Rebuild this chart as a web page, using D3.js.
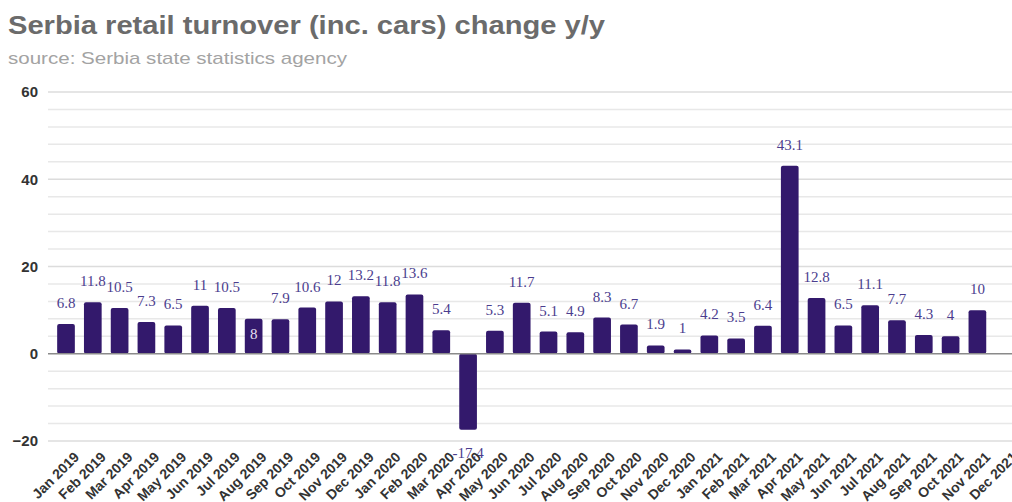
<!DOCTYPE html>
<html>
<head>
<meta charset="utf-8">
<script src="https://cdn.jsdelivr.net/npm/d3@7"></script>
<style>
  body { margin: 0; background: #fff; }
  svg { display: block; }
</style>
</head>
<body>
<script>
// months on the x axis (Dec 2021 has no value yet)
var months = [
  "Jan 2019", "Feb 2019", "Mar 2019", "Apr 2019", "May 2019", "Jun 2019",
  "Jul 2019", "Aug 2019", "Sep 2019", "Oct 2019", "Nov 2019", "Dec 2019",
  "Jan 2020", "Feb 2020", "Mar 2020", "Apr 2020", "May 2020", "Jun 2020",
  "Jul 2020", "Aug 2020", "Sep 2020", "Oct 2020", "Nov 2020", "Dec 2020",
  "Jan 2021", "Feb 2021", "Mar 2021", "Apr 2021", "May 2021", "Jun 2021",
  "Jul 2021", "Aug 2021", "Sep 2021", "Oct 2021", "Nov 2021", "Dec 2021"
];
// y/y change, %
var change = [
  6.8, 11.8, 10.5, 7.3, 6.5, 11, 10.5, 8, 7.9, 10.6, 12, 13.2,
  11.8, 13.6, 5.4, -17.4, 5.3, 11.7, 5.1, 4.9, 8.3, 6.7, 1.9, 1,
  4.2, 3.5, 6.4, 43.1, 12.8, 6.5, 11.1, 7.7, 4.3, 4, 10, null
];
// labelled y ticks
var yTicks = [-20, 0, 20, 40, 60];

var W = 1012, H = 502;
var plotLeft = 48, plotTop = 92, plotBottom = 441;

var svg = d3.select("body").append("svg")
  .attr("width", W)
  .attr("height", H)
  .style("font-family", "'Liberation Sans', Arial, sans-serif");

// title and source
svg.append("text")
  .attr("x", 8).attr("y", 34)
  .style("font-size", "26px")
  .style("font-weight", "bold")
  .attr("fill", "#6b6b6b")
  .attr("textLength", 597)
  .attr("lengthAdjust", "spacingAndGlyphs")
  .text("Serbia retail turnover (inc. cars) change y/y");

svg.append("text")
  .attr("x", 8).attr("y", 64)
  .style("font-size", "17px")
  .attr("fill", "#a3a3a3")
  .attr("textLength", 339)
  .attr("lengthAdjust", "spacingAndGlyphs")
  .text("source: Serbia state statistics agency");

var y = d3.scaleLinear().domain([-20, 60]).range([plotBottom, plotTop]);
var x = d3.scaleBand().domain(months).range([52.6, 1017.6]).paddingInner(0.34).paddingOuter(0.17);

// grid lines every 4
var grid = d3.range(-20, 61, 4);
svg.append("g").selectAll("line")
  .data(grid.filter(function(d){ return d !== 0; }))
  .enter().append("line")
  .attr("x1", plotLeft).attr("x2", W)
  .attr("y1", function(d){ return y(d); })
  .attr("y2", function(d){ return y(d); })
  .attr("stroke", function(d){ return d % 20 === 0 ? "#dcdcdc" : "#e8e8e8"; })
  .attr("stroke-width", 1.5);

// y axis labels
var yAxis = svg.append("g")
  .attr("transform", "translate(" + plotLeft + ",0)")
  .call(d3.axisLeft(y).tickValues(yTicks).tickSize(0).tickPadding(10));
yAxis.select(".domain").remove();
yAxis.selectAll("text")
  .style("font-family", "'Liberation Sans', Arial, sans-serif")
  .style("font-size", "15px")
  .style("font-weight", "bold")
  .attr("fill", "#333");

// bars
var data = months.map(function(m, i){ return { m: m, v: change[i] }; })
  .filter(function(d){ return d.v !== null; });

svg.append("g").selectAll("rect")
  .data(data)
  .enter().append("rect")
  .attr("x", function(d){ return x(d.m); })
  .attr("width", x.bandwidth())
  .attr("y", function(d){ return y(Math.max(0, d.v)); })
  .attr("height", function(d){ return Math.abs(y(d.v) - y(0)); })
  .attr("rx", 2)
  .attr("fill", "#33196c");

// zero line
svg.append("line")
  .attr("x1", plotLeft).attr("x2", W)
  .attr("y1", y(0)).attr("y2", y(0))
  .attr("stroke", "#8a8a8a")
  .attr("stroke-width", 1.5);

// value labels (Aug 2019 sits inside its bar in the original)
svg.append("g").selectAll("text")
  .data(data)
  .enter().append("text")
  .attr("x", function(d){ return x(d.m) + x.bandwidth() / 2; })
  .attr("y", function(d){
    if (d.m === "Aug 2019") return y(d.v) + 20;
    return d.v < 0 ? y(d.v) + 28 : y(d.v) - 16;
  })
  .attr("text-anchor", "middle")
  .style("font-family", "'Liberation Serif', 'Times New Roman', serif")
  .style("font-size", "15px")
  .attr("fill", function(d){ return d.m === "Aug 2019" ? "#e6e0f2" : "#4b3d8e"; })
  .text(function(d){ return d.v; });

// x axis labels
svg.append("g").selectAll("text")
  .data(months)
  .enter().append("text")
  .attr("transform", function(d){
    return "translate(" + (x(d) + x.bandwidth() / 2 + 7) + "," + 451 + ") rotate(-45)";
  })
  .attr("text-anchor", "end")
  .attr("dy", "0.7em")
  .style("font-size", "14px")
  .style("font-weight", "bold")
  .attr("fill", "#333")
  .text(function(d){ return d; });
</script>
</body>
</html>
